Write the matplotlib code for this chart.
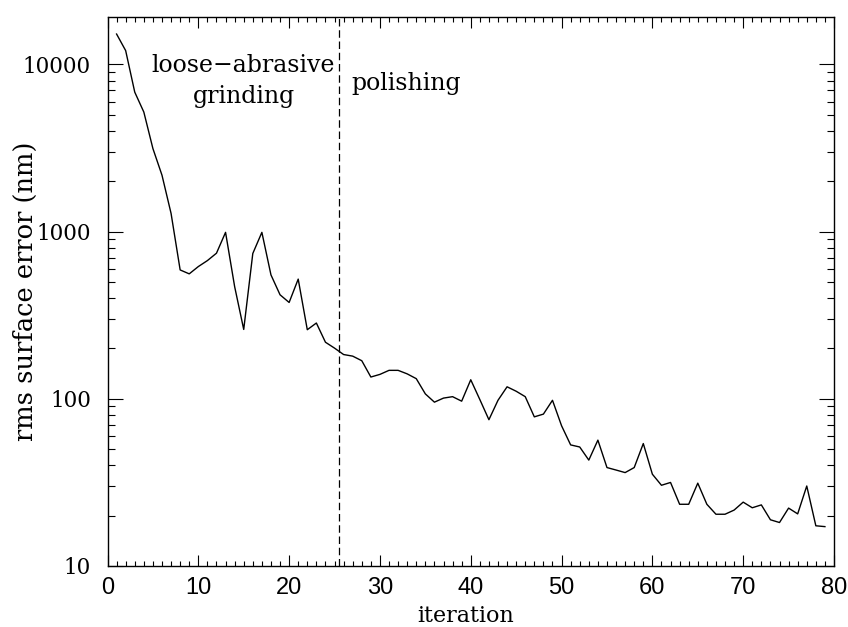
import numpy as np
import matplotlib.pyplot as plt
from matplotlib.ticker import MultipleLocator, LogLocator, NullFormatter, FixedFormatter, FixedLocator

# Surface error per iteration
iteration = np.arange(1, 80)
rms_error = [
    15200, 12100, 6830, 5190, 3140, 2175, 1285, 590, 559, 618,
    671, 743, 990, 469, 260, 740, 990, 551, 419, 377,
    520, 259, 284, 218, 201, 184, 180, 169, 135, 140,
    148, 148, 141, 132, 107, 95.5, 101, 103, 96.8, 130,
    99, 75, 98, 118, 111, 103, 78, 81, 98, 69,
    53, 51.5, 43, 56.6, 38.8, 37.5, 36.2, 38.8, 54, 35.4,
    30.4, 31.6, 23.4, 23.4, 31.3, 23.4, 20.4, 20.4, 21.6, 24.1,
    22.3, 23.2, 18.9, 18.2, 22.2, 20.5, 30.1, 17.4, 17.2,
]

phase_boundary = 25.5
ytick_values = [10, 100, 1000, 10000]
ytick_labels = ["10", "100", "1000", "10000"]

plt.rcParams["font.family"] = "DejaVu Serif"

fig = plt.figure(figsize=(8.48, 6.27), dpi=100)
ax = fig.add_axes([107.5 / 848, 1 - 566 / 627, (834 - 107.5) / 848, (566 - 16.7) / 627])

ax.plot(iteration, rms_error, color="black", lw=1.0)
ax.axvline(phase_boundary, color="black", lw=0.9, ls=(0, (6, 3)))

ax.set_yscale("log")
ax.set_xlim(0, 80)
ax.set_ylim(10, 19300)

ax.xaxis.set_major_locator(MultipleLocator(10))
ax.xaxis.set_minor_locator(MultipleLocator(1))
ax.yaxis.set_major_locator(FixedLocator(ytick_values))
ax.yaxis.set_major_formatter(FixedFormatter(ytick_labels))
ax.yaxis.set_minor_locator(LogLocator(base=10, subs=np.arange(2, 10)))
ax.yaxis.set_minor_formatter(NullFormatter())

ax.tick_params(which="both", direction="in", top=True, right=True, width=0.8)
ax.tick_params(which="major", axis="y", length=10.5, pad=12, labelsize=15.5)
ax.tick_params(which="minor", axis="y", length=5)
ax.tick_params(which="major", axis="x", length=8, pad=8, labelsize=17)
ax.tick_params(which="minor", axis="x", length=3.6)
for lab in ax.get_xticklabels():
    lab.set_family("Liberation Sans")
for s in ax.spines.values():
    s.set_linewidth(1.0)

ax.set_xlabel("iteration", fontsize=16)
ax.xaxis.set_label_coords(0.493, -0.071)
ax.set_ylabel("rms surface error (nm)", fontsize=18.5)
ax.yaxis.set_label_coords(-0.0957, 0.5)

ax.text(14.98, 9020, "loose\u2212abrasive", fontsize=17, ha="center", va="baseline")
ax.text(14.98, 5880, "grinding", fontsize=17, ha="center", va="baseline")
ax.text(26.8, 7030, "polishing", fontsize=17, ha="left", va="baseline")

plt.savefig("out.png", dpi=100)
